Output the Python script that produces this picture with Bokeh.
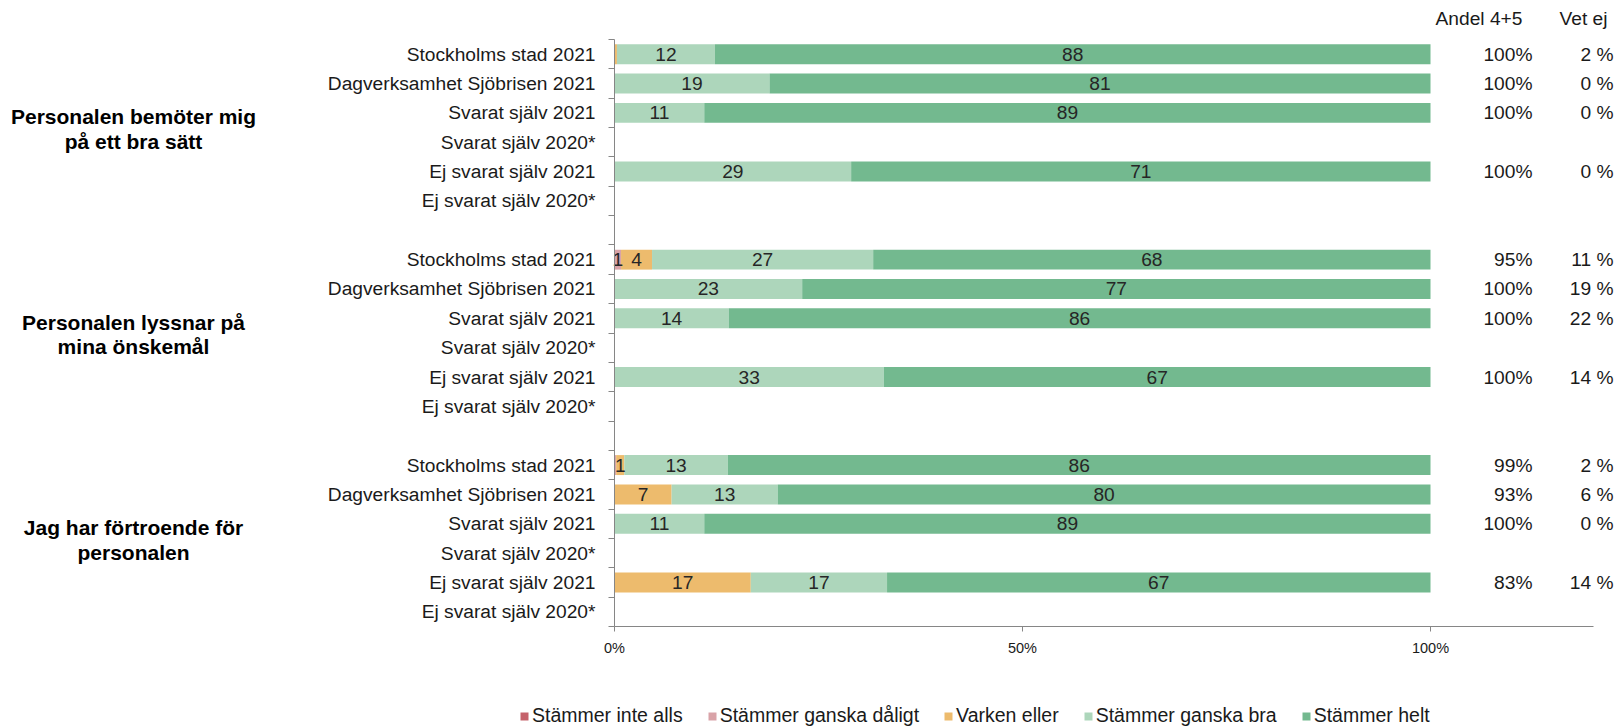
import numpy as np
from bokeh.plotting import figure
from bokeh.models import (ColumnDataSource, Range1d, FixedTicker, Legend, LegendItem)
from bokeh.core.properties import value
from bokeh.embed import file_html
from bokeh.resources import INLINE

# ---------------- data ----------------
groups = ["Personalen bemöter mig\npå ett bra sätt",
          "Personalen lyssnar på\nmina önskemål",
          "Jag har förtroende för\npersonalen"]
rows = ["Stockholms stad 2021", "Dagverksamhet Sjöbrisen 2021", "Svarat själv 2021",
        "Svarat själv 2020*", "Ej svarat själv 2021", "Ej svarat själv 2020*"]
series = ["Stämmer inte alls", "Stämmer ganska dåligt", "Varken eller",
          "Stämmer ganska bra", "Stämmer helt"]
colors = ["#C5626B", "#D9A3A8", "#EDBB6D", "#ADD6BB", "#73B98F"]

nan = float("nan")
# 3 groups x 6 rows each (nan = no data)
inte_alls = [0, 0, 0, nan, 0, nan,
             0, 0, 0, nan, 0, nan,
             0, 0, 0, nan, 0, nan]
ganska_daligt = [0, 0, 0, nan, 0, nan,
                 0.8, 0, 0, nan, 0, nan,
                 0.2, 0, 0, nan, 0, nan]
varken_eller = [0.3, 0, 0, nan, 0, nan,
                3.8, 0, 0, nan, 0, nan,
                1.0, 7, 0, nan, 16.7, nan]
ganska_bra = [12.0, 19, 11, nan, 29, nan,
              27.1, 23, 14, nan, 33, nan,
              12.7, 13, 11, nan, 16.7, nan]
helt = [87.7, 81, 89, nan, 71, nan,
        68.3, 77, 86, nan, 67, nan,
        86.1, 80, 89, nan, 66.6, nan]
andel_45 = [100, 100, 100, None, 100, None,
            95, 100, 100, None, 100, None,
            99, 93, 100, None, 83, None]
vet_ej = [2, 0, 0, None, 0, None,
          11, 19, 22, None, 14, None,
          2, 6, 0, None, 14, None]
headers = ["Andel 4+5", "Vet ej"]
x_ticks = [0, 50, 100]
x_tick_labels = ["0%", "50%", "100%"]

# ---------------- layout ----------------
W, H = 1619, 728
X0_PX, PX_PER_PCT = 614.0, 8.16        # pixel of 0 %, pixels per percent
Y0_PX, PX_PER_ROW = 39.0, 29.35        # top of first row, row pitch
FONT = "Liberation Sans"
FS = "19.2px"

n_rows = len(rows)
slots = []
for g in range(len(groups)):
    for r in range(n_rows):
        slots.append(g * (n_rows + 1) + r + 0.5)
n_slots = len(groups) * (n_rows + 1) - 1
X_MAX = 120


def dx(px):  # pixel x -> data x
    return (px - X0_PX) / PX_PER_PCT


def dy(px):  # pixel y -> data y
    return (px - Y0_PX) / PX_PER_ROW


p = figure(width=W, height=H, output_backend="svg", toolbar_location=None,
           x_range=Range1d(dx(0), dx(W)), y_range=Range1d(dy(H), dy(0)),
           min_border=0, min_border_left=0, min_border_right=0,
           min_border_top=0, min_border_bottom=0)
p.outline_line_color = None
p.grid.grid_line_color = None
p.background_fill_color = "white"
p.border_fill_color = "white"

vals = np.array([inte_alls, ganska_daligt, varken_eller, ganska_bra, helt], dtype=float)
left = np.zeros(vals.shape[1])
renderers = []
label_x, label_y, label_t = [], [], []
for i, s in enumerate(series):
    v = vals[i]
    right = left + np.nan_to_num(v)
    ok = ~np.isnan(v)
    src = ColumnDataSource(dict(y=np.array(slots)[ok], left=left[ok], right=right[ok]))
    r = p.hbar(y="y", left="left", right="right", height=0.68, source=src,
               fill_color=colors[i], line_color=None)
    renderers.append(r)
    for k in range(len(v)):
        if ok[k] and v[k] >= 0.5:
            label_x.append((left[k] + right[k]) / 2)
            label_y.append(slots[k])
            label_t.append("%d" % int(np.floor(v[k] + 0.5)))
    left = right

p.text(x=label_x, y=label_y, text=label_t, text_align="center", text_baseline="middle",
       text_font=value(FONT), text_font_size=FS, text_color="#262626")

# right-hand columns
has = [k for k in range(len(slots)) if andel_45[k] is not None]
p.text(x=[dx(1532)] * len(has), y=[slots[k] for k in has],
       text=["%d%%" % andel_45[k] for k in has], text_align="right",
       text_baseline="middle", text_font=value(FONT), text_font_size=FS,
       text_color="#1a1a1a")
p.text(x=[dx(1613)] * len(has), y=[slots[k] for k in has],
       text=["%d %%" % vet_ej[k] for k in has], text_align="right",
       text_baseline="middle", text_font=value(FONT), text_font_size=FS,
       text_color="#1a1a1a")
p.text(x=[dx(1522), dx(1607)], y=[dy(18), dy(18)], text=headers, text_align="right",
       text_baseline="middle", text_font=value(FONT), text_font_size=FS,
       text_color="#1a1a1a")

# group labels
p.text(x=[dx(133)] * len(groups),
       y=[g * (n_rows + 1) + n_rows / 2 + 0.05 for g in range(len(groups))],
       text=groups, text_align="center", text_baseline="middle",
       text_font=value(FONT), text_font_size="21px", text_font_style="bold",
       text_color="#000000", text_line_height=1.07)

# axes
ax = p.xaxis[0]
ax.fixed_location = n_slots
ax.bounds = (0, X_MAX)
ax.ticker = FixedTicker(ticks=x_ticks)
ax.major_label_overrides = {t: l for t, l in zip(x_ticks, x_tick_labels)}
ax.axis_line_color = "#868686"
ax.major_tick_line_color = "#868686"
ax.major_tick_in = 0
ax.major_tick_out = 5
ax.minor_tick_line_color = None
ax.major_label_standoff = 8
ax.major_label_text_font = FONT
ax.major_label_text_font_size = "14.5px"
ax.major_label_text_color = "#1a1a1a"

ay = p.yaxis[0]
ay.fixed_location = 0
ay.bounds = (0, n_slots)
ay.ticker = FixedTicker(ticks=slots, minor_ticks=list(range(n_slots + 1)))
ay.major_label_overrides = {float(s): rows[k % n_rows] for k, s in enumerate(slots)}
ay.axis_line_color = "#868686"
ay.major_tick_line_color = None
ay.major_tick_in = 0
ay.major_tick_out = 0
ay.minor_tick_line_color = "#868686"
ay.minor_tick_in = 0
ay.minor_tick_out = 6
ay.major_label_standoff = 13
ay.major_label_text_font = FONT
ay.major_label_text_font_size = FS
ay.major_label_text_color = "#1a1a1a"

legend = Legend(items=[LegendItem(label=s, renderers=[renderers[i]]) for i, s in enumerate(series)],
                orientation="horizontal", location=(519, 1),
                glyph_width=10, glyph_height=10, label_standoff=3, spacing=24,
                padding=0, margin=0, border_line_color=None,
                background_fill_alpha=0,
                label_text_font=FONT, label_text_font_size="19.5px",
                label_text_color="#1a1a1a", label_height=20)
p.add_layout(legend, "center")

open("out.html", "w").write(file_html(p, INLINE))
